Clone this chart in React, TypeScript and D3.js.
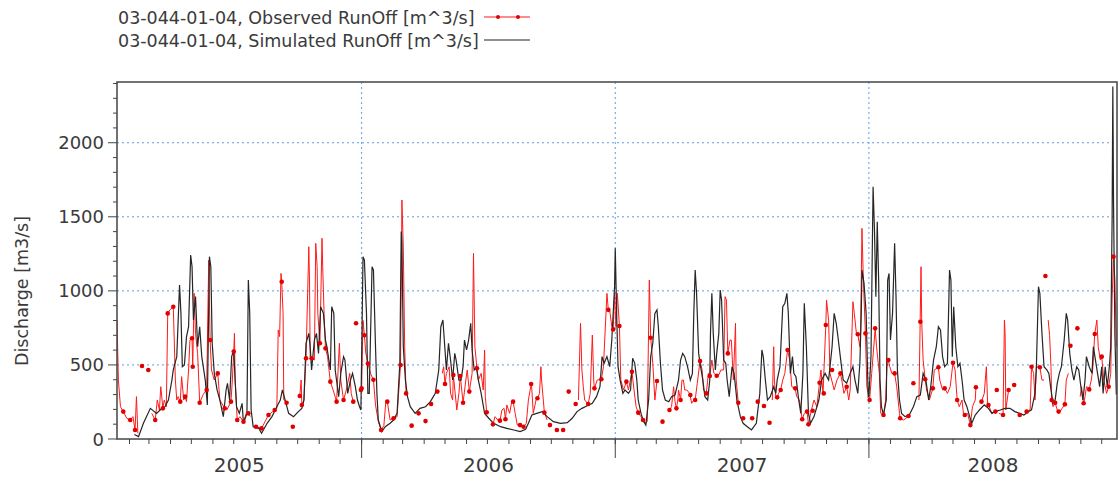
import * as d3 from 'd3';

type Pt = [number, number] | null;

// day-of-year, discharge [m3/s]
const years = [2005, 2006, 2007, 2008];
const yTicks = [0, 500, 1000, 1500, 2000];
const legendLabels = [
  '03-044-01-04, Observed RunOff [m^3/s]',
  '03-044-01-04, Simulated RunOff [m^3/s]',
];

const sim2005: Pt[] = [[38,30],[44,16],[51,106],[61,207],[70,173],[75,196],[82,218],[87,263],[92,398],[94,466],[99,556],[103,1040],[105,848],[107,488],[110,500],[113,690],[116,758],[119,1242],[121,1163],[123,803],[126,961],[129,623],[132,758],[135,556],[140,398],[143,230],[146,1231],[148,1163],[150,646],[153,443],[157,331],[161,263],[166,151],[170,331],[172,376],[175,263],[178,556],[181,601],[183,398],[185,218],[189,173],[193,241],[195,106],[200,173],[202,1073],[204,848],[206,196],[209,83],[217,72],[221,38],[229,106],[236,151],[243,218],[248,263],[251,331],[255,263],[260,173],[267,151],[274,185],[279,207],[282,263],[285,646],[289,713],[291,623],[293,466],[297,668],[300,713],[303,578],[306,893],[310,848],[313,668],[315,623],[320,466],[322,893],[325,848],[327,466],[332,286],[335,443],[339,556],[341,533],[345,308],[349,398],[352,443],[356,353],[359,263],[362,218],[364,196]];
const sim2006: Pt[] = [[2,1231],[4,1208],[7,848],[9,308],[11,308],[15,1163],[17,1141],[20,623],[22,308],[24,128],[29,50],[34,83],[41,106],[46,128],[51,173],[55,511],[57,1400],[58,1330],[60,623],[63,398],[66,286],[70,218],[77,173],[84,207],[92,218],[99,252],[106,308],[111,466],[114,758],[117,803],[119,668],[122,466],[125,646],[128,533],[131,398],[134,578],[136,533],[140,398],[143,398],[146,488],[148,668],[151,601],[154,668],[157,781],[159,601],[162,466],[165,488],[168,398],[172,308],[177,173],[183,140],[190,106],[200,83],[209,72],[219,61],[228,50],[236,65],[240,106],[245,162],[252,173],[260,185],[267,151],[276,117],[286,106],[296,110],[303,140],[310,185],[317,207],[324,223],[332,241],[338,286],[343,353],[346,556],[349,511],[353,556],[357,488],[360,668],[364,1028]];
const sim2007: Pt[] = [[0,1287],[2,848],[4,488],[7,398],[11,308],[14,331],[19,308],[22,331],[25,545],[28,511],[31,398],[33,263],[37,173],[41,117],[44,94],[48,263],[51,556],[54,646],[57,848],[60,871],[62,758],[65,511],[68,331],[72,263],[77,252],[81,286],[86,297],[91,398],[94,533],[97,578],[100,556],[104,488],[108,398],[111,443],[113,848],[115,1141],[117,983],[120,578],[122,511],[126,398],[129,286],[133,263],[136,398],[137,713],[139,983],[141,713],[144,466],[146,578],[149,713],[151,1006],[153,938],[156,533],[159,511],[161,398],[164,286],[168,488],[171,443],[175,263],[180,151],[184,106],[190,83],[196,61],[203,106],[208,308],[211,601],[213,556],[216,398],[219,263],[223,286],[228,353],[231,308],[233,398],[237,488],[241,893],[244,916],[247,983],[249,848],[252,443],[255,556],[257,443],[260,421],[264,263],[267,173],[270,443],[272,916],[275,623],[278,173],[281,106],[286,151],[293,263],[297,398],[302,443],[307,398],[312,623],[315,848],[318,781],[321,668],[325,511],[328,398],[333,376],[338,443],[342,488],[345,398],[349,308],[352,511],[354,848],[355,1141],[358,1051],[361,848],[364,286]];
const sim2008: Pt[] = [[0,290],[3,560],[6,1703],[8,1411],[10,961],[12,1467],[14,1073],[16,398],[18,218],[21,162],[25,263],[27,1073],[29,1118],[31,668],[34,848],[37,1321],[39,961],[41,466],[44,263],[47,173],[52,151],[58,162],[64,218],[69,286],[74,297],[78,443],[82,398],[86,263],[89,353],[93,533],[97,623],[100,758],[103,736],[106,556],[109,488],[113,511],[116,1141],[118,1073],[120,556],[122,893],[125,623],[128,488],[131,511],[134,398],[137,263],[141,218],[145,151],[148,106],[153,162],[159,196],[166,230],[172,207],[177,173],[181,185],[189,196],[196,207],[203,207],[210,185],[217,173],[223,162],[230,185],[234,196],[239,308],[241,488],[244,1028],[246,983],[249,713],[252,488],[256,466],[259,443],[262,331],[265,241],[268,263],[271,376],[274,443],[277,488],[281,668],[284,848],[286,803],[289,578],[292,466],[295,398],[299,488],[302,466],[305,353],[308,263],[311,398],[313,556],[317,488],[321,443],[323,623],[326,533],[329,443],[332,353],[335,488],[337,308],[340,488],[343,353],[346,488],[348,623],[350,1500],[351,2380],[352,1600],[354,700],[356,300]];

// observed, null = gap in the record
const obs2005: Pt[] = [[13,803],[15,398],[18,218],[22,185],[27,140],[32,128],[36,151],[39,61],[41,286],[43,38],null,[63,173],[68,128],[71,263],[74,196],[76,353],[79,207],[81,263],[84,218],[86,848],[89,871],[94,893],[97,398],[99,263],[101,286],[104,252],[106,421],[109,263],[111,286],[113,252],[116,466],[118,668],[121,680],[122,488],[124,983],[126,713],[129,578],[132,245],[137,300],[142,331],[145,1208],[147,668],[149,466],[153,398],[158,443],[161,263],[168,207],[171,196],[177,252],[179,398],[181,590],[182,713],[183,398],[186,128],[190,151],[195,117],[199,173],[202,173],[205,151],null,[213,83],[221,72],[231,162],[240,196],[243,207],[245,736],[247,691],[249,1118],[250,1062],[252,848],[253,263],[257,245],null,[276,290],[278,398],[279,230],[282,263],[285,545],[289,1298],[290,1073],[291,556],[293,545],[297,533],[299,1321],[301,1163],[302,848],[305,646],[308,1355],[309,1163],[311,848],[313,612],[316,556],[320,387],[324,331],[329,252],[333,646],[335,398],[339,263],[343,331],[348,443],[350,308],[353,252],null,[364,331]];
const obs2006: Pt[] = [[0,342],[2,800],[4,700],[6,580],[9,510],[13,440],[17,400],[20,230],[24,120],[28,61],[32,90],[35,260],[37,252],[41,128],[46,140],[51,150],[56,500],[58,1613],[60,1290],[62,620],[64,308],null,[116,443],[118,488],[120,371],[122,443],[126,488],[128,308],[131,263],[132,432],[137,196],[140,308],[142,425],[146,245],[150,398],[152,466],[155,320],[159,443],[161,1253],[163,623],[166,477],[168,398],[172,443],[175,331],[177,601],[178,286],[180,180],null,[189,99],[192,151],[196,128],[199,124],[202,196],[205,207],[207,133],[209,230],[213,173],[216,252],[218,252],[221,173],[224,94],[228,94],[233,83],[237,106],[240,263],[244,371],[245,331],[247,173],[251,263],[253,275],[256,308],[258,488],[259,398],[263,178],[267,128],null,[312,263],[315,781],[317,466],[319,353],[321,263],[326,236],[329,308],[332,702],[334,398],[335,342],[339,398],[345,403],[348,488],[353,983],[355,872],[357,870],[360,758],[362,740],[364,983]];
const obs2007: Pt[] = [[1,758],[3,983],[6,763],[8,398],[12,331],[16,387],[19,331],[24,454],[27,331],[30,218],[33,178],[37,151],[40,128],[44,110],[46,117],[49,1073],[51,684],[54,511],[57,263],[60,392],null,[78,196],[81,218],[84,353],[86,252],[88,207],[90,263],[91,331],[94,263],[96,398],[98,398],[100,331],[103,331],[107,308],[110,241],[113,263],[115,263],[118,376],[122,527],[125,466],[127,331],[131,308],[134,443],[136,425],[139,533],[142,443],[146,427],[149,432],[152,466],[156,466],[158,961],[160,938],[162,578],[165,668],[167,668],[170,398],[173,781],[174,398],[177,245],null,[226,263],[228,623],[229,398],[231,286],[233,281],[235,308],[238,331],[241,398],[244,443],[248,601],[251,533],[254,353],[259,342],[261,286],[265,263],[269,133],[272,173],[276,185],[278,99],[282,191],[286,263],[290,218],[294,380],[296,466],[299,308],[303,770],[304,938],[307,803],[309,443],[315,331],[319,398],[324,443],[326,398],[329,308],[333,353],[336,263],[338,331],[342,927],[344,848],[347,713],[349,707],[352,623],[353,713],[355,1422],[357,1073],[360,713],[362,353]];
const obs2008: Pt[] = [[1,263],[4,443],[9,747],[11,623],[15,443],[17,173],[21,162],[24,263],[26,488],[28,533],[30,488],[33,443],[37,443],[40,353],[44,173],[45,140],[50,128],[57,155],null,[72,263],[75,1163],[76,792],[78,533],[81,403],[83,331],[87,263],[92,342],[94,466],[100,484],[102,398],[106,331],[109,342],[113,308],[117,353],[121,515],[124,466],[127,263],[130,218],[134,263],[136,173],[138,162],[142,173],[146,94],[149,218],[153,263],[154,349],null,[162,252],[166,308],[169,488],[171,218],[172,230],[177,173],[182,185],null,[187,173],[193,162],[195,803],[196,713],[197,196],[201,331],null,[227,185],[232,196],[234,488],[237,443],[239,263],[241,488],[246,484],[249,398],[252,398],null,[258,803],[260,700],[262,488],[263,263],[265,218],[268,245],[271,196],[273,185],[275,185],[278,207],[282,234],[284,398],[287,443],null,[304,286],[306,353],[309,241],[311,286],[313,353],[316,346],[317,335],[320,398],[322,466],[325,709],[328,803],[330,623],[333,533],[335,556],[338,398],[342,308],[345,353],[348,443],[350,950],[352,1231],[354,1073],[356,623]];

const dots2005: Pt[] = [[22,185],[32,128],[39,61],[49,493],[58,466],[68,128],[79,207],[86,848],[94,893],[104,252],[111,286],[121,680],[122,488],[132,245],[142,331],[147,668],[158,443],[168,207],[177,252],[181,590],[186,128],[195,117],[202,173],[213,83],[221,72],[231,162],[240,196],[250,1062],[257,245],[266,83],[276,290],[279,230],[285,545],[293,545],[305,646],[313,612],[320,387],[329,252],[339,263],[353,252],[357,781],[364,331]];
const dots2006: Pt[] = [[0,342],[4,700],[9,510],[17,400],[28,61],[37,252],[46,140],[56,500],[64,308],[72,90],[82,173],[92,121],[100,236],[109,320],[120,371],[132,432],[142,425],[146,245],[155,320],[166,477],[180,180],[189,99],[199,124],[207,133],[218,252],[228,94],[233,83],[244,371],[253,275],[263,178],[271,94],[281,61],[290,61],[298,320],[308,236],[326,236],[335,342],[345,403],[355,872],[362,740]];
const dots2007: Pt[] = [[6,763],[16,387],[24,454],[33,178],[40,128],[51,684],[60,392],[68,117],[78,196],[88,207],[94,263],[108,297],[115,263],[122,527],[131,308],[136,425],[146,427],[162,578],[177,245],[184,140],[197,140],[205,252],[214,223],[222,110],[233,281],[238,331],[248,601],[259,342],[269,133],[276,185],[278,99],[284,191],[294,380],[300,308],[303,770],[312,466],[324,443],[333,353],[349,707],[360,713]];
const dots2008: Pt[] = [[1,263],[9,747],[21,162],[28,533],[37,443],[45,140],[57,155],[64,376],[74,792],[81,403],[92,342],[100,484],[109,342],[121,515],[127,263],[138,162],[146,94],[154,349],[162,252],[172,230],[182,185],[184,331],[193,162],[201,331],[209,365],[217,162],[227,185],[234,488],[246,484],[254,1100],[263,263],[268,245],[273,185],[282,234],[290,630],[300,747],[309,241],[317,335],[325,709],[335,556],[345,353],[352,1231]];

type D = { date: Date; v: number } | null;
const toDates = (parts: Pt[][]): D[] =>
  parts.flatMap((pts, i) =>
    pts.map((p) => (p ? { date: new Date(years[i], 0, 1 + p[0]), v: p[1] } : null)),
  );

const simulated = toDates([sim2005, sim2006, sim2007, sim2008]);
const observed = toDates([obs2005, obs2006, obs2007, obs2008]);
const obsDots = toDates([dots2005, dots2006, dots2007, dots2008]).filter(Boolean) as { date: Date; v: number }[];

const W = 1119;
const H = 479;
const m = { left: 117, right: 1117, top: 82, bottom: 439 };
const font = '"DejaVu Sans", sans-serif';
const textCol = '#3a3a3a';
const gridCol = '#5f9de3';

export default function App() {
  const x = d3.scaleTime().domain([new Date(2005, 0, 14), new Date(2008, 11, 23)]).range([m.left, m.right]);
  const y = d3.scaleLinear().domain([0, 2410]).range([m.bottom, m.top]);

  const line = d3
    .line<D>()
    .defined((d) => d !== null)
    .x((d) => x(d!.date))
    .y((d) => y(d!.v));

  const months = x.ticks(d3.timeMonth.every(1)!);
  const yearStarts = years.slice(1).map((yr) => new Date(yr, 0, 1));
  const minorY = d3.range(0, 2401, 100);

  // year labels sit in the middle of the visible part of each year
  const [d0, d1] = x.domain();
  const yearMid = years.map((yr) => {
    const a = Math.max(+new Date(yr, 0, 1), +d0);
    const b = Math.min(+new Date(yr + 1, 0, 1), +d1);
    return (x(new Date(a)) + x(new Date(b))) / 2;
  });

  return (
    <svg width={W} height={H} style={{ position: 'absolute', left: 0, top: 0, background: '#fff' }}>
      <defs>
        <clipPath id="plot">
          <rect x={m.left} y={m.top} width={m.right - m.left} height={m.bottom - m.top} />
        </clipPath>
      </defs>

      {/* legend */}
      <g fontFamily={font} fontSize={17.5} fill={textCol}>
        <text x={118} y={24}>{legendLabels[0]}</text>
        <text x={118} y={47}>{legendLabels[1]}</text>
      </g>
      <line x1={484} x2={530} y1={17} y2={17} stroke="#ff1a1a" strokeWidth={1.2} />
      <circle cx={498} cy={17} r={2} fill="#e00000" />
      <circle cx={518} cy={17} r={2} fill="#e00000" />
      <line x1={484} x2={530} y1={40} y2={40} stroke="#222" strokeWidth={1.2} />

      {/* grid */}
      <g stroke={gridCol} strokeWidth={1} strokeDasharray="2,3">
        {yTicks.slice(1).map((t) => (
          <line key={t} x1={m.left} x2={m.right} y1={y(t)} y2={y(t)} />
        ))}
        {yearStarts.map((d) => (
          <line key={+d} x1={x(d)} x2={x(d)} y1={m.top} y2={m.bottom} />
        ))}
      </g>

      {/* series */}
      <g clipPath="url(#plot)">
        <path d={line(observed) ?? ''} fill="none" stroke="#ff1a1a" strokeWidth={1} />
        <path d={line(simulated) ?? ''} fill="none" stroke="#262626" strokeWidth={1.2} />
        {obsDots.map((d, i) => (
          <circle key={i} cx={x(d.date)} cy={y(d.v)} r={2.3} fill="#e00000" />
        ))}
      </g>

      {/* frame */}
      <rect x={m.left} y={m.top} width={m.right - m.left} height={m.bottom - m.top} fill="none" stroke="#444" strokeWidth={1.5} />

      {/* y axis */}
      <g stroke="#444" strokeWidth={1}>
        {minorY.map((t) => (
          <line key={t} x1={m.left - (t % 500 === 0 ? 9 : 4)} x2={m.left} y1={y(t)} y2={y(t)} />
        ))}
      </g>
      <g fontFamily={font} fontSize={18} fill={textCol} textAnchor="end">
        {yTicks.map((t) => (
          <text key={t} x={104} y={y(t) + 6.5}>{t}</text>
        ))}
      </g>
      <text
        transform={`translate(28,291) rotate(-90)`}
        textAnchor="middle"
        fontFamily={font}
        fontSize={17.5}
        fill={textCol}
      >
        Discharge [m3/s]
      </text>

      {/* x axis */}
      <g stroke="#444" strokeWidth={1}>
        {months.map((d) => (
          <line key={+d} x1={x(d)} x2={x(d)} y1={m.bottom} y2={m.bottom + 5} />
        ))}
        {yearStarts.map((d) => (
          <line key={+d} x1={x(d)} x2={x(d)} y1={m.bottom} y2={m.bottom + 19} />
        ))}
      </g>
      <g fontFamily={font} fontSize={20} fill={textCol} textAnchor="middle">
        {years.map((yr, i) => (
          <text key={yr} x={yearMid[i]} y={472}>{yr}</text>
        ))}
      </g>
    </svg>
  );
}
